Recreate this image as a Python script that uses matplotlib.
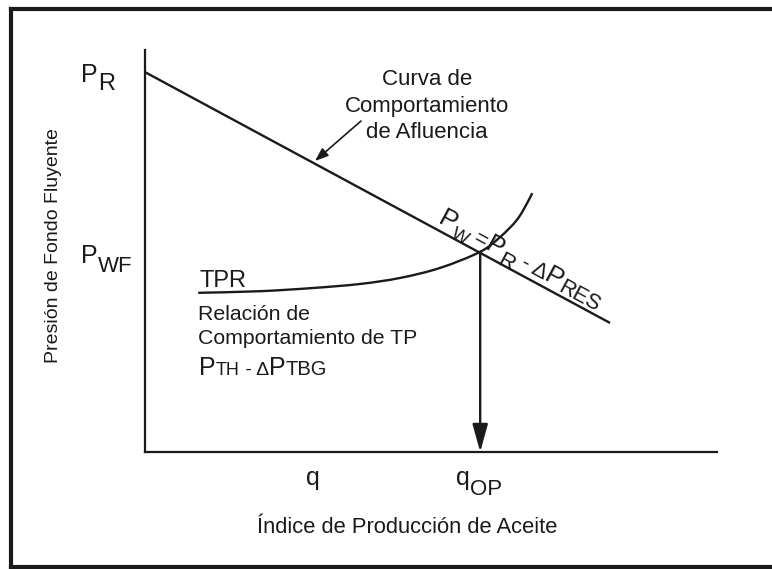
import numpy as np
import matplotlib
matplotlib.use("Agg")
import matplotlib.pyplot as plt
from matplotlib.path import Path
from matplotlib.patches import PathPatch

plt.rcParams['font.family'] = ['Liberation Sans', 'DejaVu Sans']

# ---- data (normalised units, 0..10 on both axes) ----
ipr_q = [0.0, 8.13]
ipr_p = [9.45, 3.21]
tpr_q = [0.93, 2.01, 2.94, 3.76, 4.46, 5.16, 5.86, 6.21, 6.50, 6.68, 6.77]
tpr_p = [3.96, 4.00, 4.08, 4.18, 4.33, 4.58, 4.98, 5.35, 5.77, 6.19, 6.44]
q_op = 5.86
p_op = 4.98

INK = '#1a1a1a'
W, H = 772, 569
fig = plt.figure(figsize=(W / 100, H / 100), dpi=100)

# overlay in pixel coordinates (y downwards)
ov = fig.add_axes([0, 0, 1, 1])
ov.set_xlim(0, W)
ov.set_ylim(H, 0)
ov.axis('off')

# frame (left, top, bottom; open on the right)
ov.plot([10.5, 10.5, W + 5], [9, 9, 9], color=INK, lw=3.0, solid_capstyle='projecting')
ov.plot([10.5, 10.5], [9, 566.5], color=INK, lw=3.0, solid_capstyle='projecting')
ov.plot([10.5, W + 5], [566.5, 566.5], color=INK, lw=3.0, solid_capstyle='projecting')

# main axes
ax = fig.add_axes([145 / W, (H - 452) / H, 572 / W, 402 / H])
ax.set_xlim(0, 10)
ax.set_ylim(0, 10)
ax.patch.set_alpha(0)
for s in ['top', 'right']:
    ax.spines[s].set_visible(False)
for s in ['left', 'bottom']:
    ax.spines[s].set_linewidth(1.6)
    ax.spines[s].set_color(INK)
ax.set_xticks([])
ax.set_yticks([])

ax.plot(ipr_q, ipr_p, color=INK, lw=1.7, clip_on=False, solid_capstyle='butt')

# smooth TPR curve through the read points (cubic Bezier segments)
pts = np.column_stack([tpr_q, tpr_p])
verts = [tuple(pts[0])]
codes = [Path.MOVETO]
n = len(pts)
for i in range(n - 1):
    p0 = pts[i - 1] if i > 0 else pts[i]
    p1 = pts[i]
    p2 = pts[i + 1]
    p3 = pts[i + 2] if i + 2 < n else pts[i + 1]
    c1 = p1 + (p2 - p0) / 6.0
    c2 = p2 - (p3 - p1) / 6.0
    verts += [tuple(c1), tuple(c2), tuple(p2)]
    codes += [Path.CURVE4] * 3
ax.add_patch(PathPatch(Path(verts, codes), facecolor='none', edgecolor=INK,
                       lw=1.7, clip_on=False))

ax.annotate('', xy=(q_op, 0.0), xytext=(q_op, p_op),
            arrowprops=dict(arrowstyle='-|>,head_length=1.7,head_width=0.47',
                            color=INK, lw=1.7, shrinkA=0, shrinkB=0),
            annotation_clip=False)

renderer = fig.canvas.get_renderer()


def seq_text(x, y, pieces, angle=0.0, color=INK):
    a = np.deg2rad(angle)
    for s, size, drop in pieces:
        px = x + drop * np.sin(a)
        py = y + drop * np.cos(a)
        ov.text(px, py, s, fontsize=size, rotation=angle, rotation_mode='anchor',
                ha='left', va='baseline', color=color)
        tmp = ov.text(0, 0, s, fontsize=size)
        w = tmp.get_window_extent(renderer).width
        tmp.remove()
        x += w * np.cos(a)
        y -= w * np.sin(a)


# axis titles
ov.text(407, 533, 'Índice de Producción de Aceite', fontsize=15.8, ha='center',
        va='baseline', color=INK)
ov.text(54, 246, 'Presión de Fondo Fluyente', fontsize=14, rotation=90,
        ha='center', va='center', color=INK)

# axis markers
seq_text(81, 82, [('P', 18, 0), ('R', 17, 8)])
seq_text(81, 263, [('P', 18, 0), ('WF', 16, 9)])
seq_text(306, 485, [('q', 18, 0)])
seq_text(456, 485, [('q', 18, 0), ('OP', 16, 10)])

# IPR label
for txt, yb in [('Curva de', 85), ('Comportamiento', 112), ('de Afluencia', 138)]:
    ov.text(427, yb, txt, fontsize=16, ha='center', va='baseline', color=INK)
ov.annotate('', xy=(315, 161), xytext=(361, 121),
            arrowprops=dict(arrowstyle='-|>,head_length=0.8,head_width=0.3',
                            color=INK, lw=1.2, shrinkA=0, shrinkB=0))

# TPR labels
ov.text(199, 287, 'TPR', fontsize=17, ha='left', va='baseline', color=INK)
ov.text(198, 320, 'Relación de', fontsize=15.3, ha='left', va='baseline', color=INK)
ov.text(198, 344, 'Comportamiento de TP', fontsize=15.3, ha='left', va='baseline', color=INK)
seq_text(199, 375, [('P', 18, 0), ('TH', 13, 0), (' - Δ', 14, 0), ('P', 18, 0), ('TBG', 14.5, 0)])

# operating point label along the IPR line
seq_text(437, 223, [('P', 19, 0), ('W', 13, 6), (' =', 16, 0), ('P', 19, 0), ('R', 16, 8),
                    (' - Δ', 16, 0), ('P', 19, 0), ('RES', 15.5, 3)], angle=-28.4)

fig.savefig('out.png', dpi=100)
